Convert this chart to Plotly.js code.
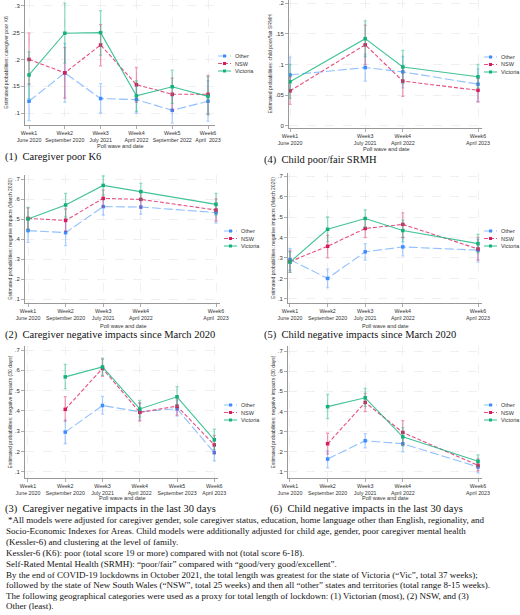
<!DOCTYPE html>
<html>
<head>
<meta charset="utf-8">
<script src="https://cdn.plot.ly/plotly-3.0.1.min.js"></script>
<style>html,body{margin:0;padding:0;background:#fff}</style>
</head>
<body>
<div id="chart" style="width:520px;height:615px"></div>
<script>
// ── Data (estimated probabilities and 95% CI) ──

const GROUPS = ['Other', 'NSW', 'Victoria'];

// (1) Caregiver poor K6
const k6Waves = [1, 2, 3, 4, 5, 6];
const k6TickVals = [1, 2, 3, 4, 5, 6];
const k6TickText = ['Week1<br>June 2020', 'Week2<br>September 2020', 'Week3<br>July 2021', 'Week4<br>April 2022', 'Week5<br>September 2022', 'Week6<br>April  2023'];
const k6Other = [0.122, 0.175, 0.127, 0.125, 0.105, 0.122];
const k6OtherLo = [0.086, 0.120, 0.100, 0.100, 0.081, 0.085];
const k6OtherHi = [0.155, 0.230, 0.155, 0.150, 0.131, 0.160];
const k6Nsw = [0.200, 0.175, 0.227, 0.153, 0.135, 0.135];
const k6NswLo = [0.153, 0.128, 0.188, 0.120, 0.105, 0.097];
const k6NswHi = [0.249, 0.222, 0.265, 0.185, 0.165, 0.170];
const k6Vic = [0.171, 0.249, 0.250, 0.132, 0.149, 0.131];
const k6VicLo = [0.127, 0.193, 0.208, 0.103, 0.118, 0.098];
const k6VicHi = [0.214, 0.305, 0.291, 0.160, 0.180, 0.168];

// (4) Child poor/fair SRMH
const srWaves = [1, 3, 4, 6];
const srTickVals = [1, 3, 4, 6];
const srTickText = ['Week1<br>June 2020', 'Week3<br>July 2021', 'Week4<br>April 2022', 'Week6<br>April 2023'];
const srOther = [0.083, 0.095, 0.088, 0.068];
const srOtherLo = [0.058, 0.073, 0.062, 0.040];
const srOtherHi = [0.112, 0.117, 0.113, 0.093];
const srNsw = [0.057, 0.132, 0.073, 0.058];
const srNswLo = [0.035, 0.100, 0.048, 0.039];
const srNswHi = [0.080, 0.164, 0.097, 0.077];
const srVic = [0.072, 0.142, 0.096, 0.080];
const srVicLo = [0.045, 0.113, 0.069, 0.062];
const srVicHi = [0.100, 0.171, 0.123, 0.100];

// (2) Caregiver negative impacts since March 2020
const cmWaves = [1, 2, 3, 4, 6];
const cmTickVals = [1, 2, 3, 4, 6];
const cmTickText = ['Week1<br>June 2020', 'Week2<br>September 2020', 'Week3<br>July 2021', 'Week4<br>April 2022', 'Week6<br>April  2023'];
const cmOther = [0.442, 0.432, 0.562, 0.560, 0.532];
const cmOtherLo = [0.383, 0.367, 0.520, 0.525, 0.480];
const cmOtherHi = [0.500, 0.500, 0.605, 0.600, 0.580];
const cmNsw = [0.503, 0.493, 0.603, 0.598, 0.545];
const cmNswLo = [0.450, 0.440, 0.560, 0.555, 0.490];
const cmNswHi = [0.555, 0.550, 0.645, 0.640, 0.600];
const cmVic = [0.500, 0.570, 0.668, 0.637, 0.573];
const cmVicLo = [0.445, 0.510, 0.620, 0.595, 0.520];
const cmVicHi = [0.558, 0.628, 0.715, 0.678, 0.628];

// (5) Child negative impacts since March 2020
const chWaves = [1, 2, 3, 4, 6];
const chTickVals = [1, 2, 3, 4, 6];
const chTickText = ['Week1<br>June 2020', 'Week2<br>September 2020', 'Week3<br>July 2021', 'Week4<br>April 2022', 'Week6<br>April 2023'];
const chOther = [0.292, 0.200, 0.330, 0.354, 0.338];
const chOtherLo = [0.240, 0.155, 0.290, 0.310, 0.280];
const chOtherHi = [0.345, 0.245, 0.370, 0.400, 0.390];
const chNsw = [0.282, 0.357, 0.444, 0.464, 0.344];
const chNswLo = [0.230, 0.300, 0.400, 0.400, 0.290];
const chNswHi = [0.335, 0.410, 0.490, 0.520, 0.400];
const chVic = [0.280, 0.440, 0.493, 0.434, 0.370];
const chVicLo = [0.230, 0.380, 0.450, 0.380, 0.325];
const chVicHi = [0.330, 0.500, 0.535, 0.485, 0.415];

// (3) Caregiver negative impacts in the last 30 days
const c30Waves = [2, 3, 4, 5, 6];
const c30TickVals = [1, 2, 3, 4, 5, 6];
const c30TickText = ['Week1<br>June 2020', 'Week2<br>September 2020', 'Week3<br>July 2021', 'Week4<br>April 2022', 'Week5<br>September 2023', 'Week6<br>April 2023'];
const c30Other = [0.296, 0.427, 0.396, 0.411, 0.195];
const c30OtherLo = [0.240, 0.385, 0.355, 0.375, 0.155];
const c30OtherHi = [0.355, 0.472, 0.438, 0.455, 0.235];
const c30Nsw = [0.408, 0.610, 0.393, 0.424, 0.233];
const c30NswLo = [0.350, 0.570, 0.350, 0.380, 0.190];
const c30NswHi = [0.470, 0.655, 0.440, 0.465, 0.280];
const c30Vic = [0.568, 0.617, 0.410, 0.470, 0.258];
const c30VicLo = [0.510, 0.575, 0.370, 0.425, 0.210];
const c30VicHi = [0.630, 0.660, 0.452, 0.520, 0.310];

// (6) Child negative impacts in the last 30 days
const k30Waves = [2, 3, 4, 6];
const k30TickVals = [1, 2, 3, 4, 6];
const k30TickText = ['Week1<br>June 2020', 'Week2<br>September 2020', 'Week3<br>July 2021', 'Week4<br>April 2022', 'Week6<br>April 2023'];
const k30Other = [0.164, 0.255, 0.240, 0.125];
const k30OtherLo = [0.120, 0.220, 0.200, 0.095];
const k30OtherHi = [0.205, 0.290, 0.280, 0.155];
const k30Nsw = [0.240, 0.445, 0.296, 0.133];
const k30NswLo = [0.190, 0.400, 0.235, 0.105];
const k30NswHi = [0.292, 0.490, 0.355, 0.165];
const k30Vic = [0.424, 0.468, 0.274, 0.153];
const k30VicLo = [0.365, 0.425, 0.230, 0.125];
const k30VicHi = [0.485, 0.515, 0.320, 0.185];

const yTicks01 = [0.1, 0.15, 0.2, 0.25, 0.3];
const yTicks02 = [0, 0.05, 0.1, 0.15, 0.2];
const yTicks07 = [0.1, 0.2, 0.3, 0.4, 0.5, 0.6, 0.7];

const FOOTNOTE = [
  '*All models were adjusted for caregiver gender, sole caregiver status, education, home language other than English, regionality, and',
  'Socio-Economic Indexes for Areas. Child models were additionally adjusted for child age, gender, poor caregiver mental health',
  '(Kessler-6) and clustering at the level of family.',
  'Kessler-6 (K6): poor (total score 19 or more) compared with not (total score 6-18).',
  'Self-Rated Mental Health (SRMH): \u201cpoor/fair\u201d compared with \u201cgood/very good/excellent\u201d.',
  'By the end of COVID-19 lockdowns in October 2021, the total length was greatest for the state of Victoria (\u201cVic\u201d, total 37 weeks);',
  'followed by the state of New South Wales (\u201cNSW\u201d, total 25 weeks) and then all \u201cother\u201d states and territories (total range 8-15 weeks).',
  'The following geographical categories were used as a proxy for total length of lockdown: (1) Victorian (most), (2) NSW, and (3)',
  'Other (least).',
];

// ── Styling ──────────────────────────────────────────────────────

const W = 520, H = 615;
const px = x => x / W;
const py = y => 1 - y / H;

const STYLE = {
  Other:    { line: 'rgba(70,150,255,0.6)',  marker: '#3d8bff', ci: 'rgba(70,150,255,0.45)', dash: '9px,3px' },
  NSW:      { line: 'rgba(222,35,95,0.8)',   marker: '#d81b5a', ci: 'rgba(222,35,95,0.45)',  dash: '4px,2px' },
  Victoria: { line: 'rgba(30,185,130,0.85)', marker: '#14b07a', ci: 'rgba(30,185,130,0.5)',  dash: 'solid' },
};

const SANS = 'Liberation Sans, Arial, sans-serif';
const SERIF = 'Liberation Serif, Times New Roman, serif';

// ── Panel definitions ────────────────────────────────────────────

const panels = [
  { id: 1, waves: k6Waves, tv: k6TickVals, tt: k6TickText, yt: yTicks01,
    est: [k6Other, k6Nsw, k6Vic], lo: [k6OtherLo, k6NswLo, k6VicLo], hi: [k6OtherHi, k6NswHi, k6VicHi],
    dx: [25, 215], dy: [125, 0], rx: [0.888, 6.195], ry: [0.0776, 0.311],
    ytitle: 'Estimated probabilities: caregiver poor K6', xt: 146,
    caption: '(1)  Caregiver poor K6', cap: [3, 157], leg: [218, 56] },
  { id: 2, waves: srWaves, tv: srTickVals, tt: srTickText, yt: yTicks02,
    est: [srOther, srNsw, srVic], lo: [srOtherLo, srNswLo, srVicLo], hi: [srOtherHi, srNswHi, srVicHi],
    dx: [289, 482], dy: [128, 0], rx: [0.973, 6.106], ry: [-0.0033, 0.2049],
    ytitle: 'Estimated probabilities: child poor/fair SRMH', xt: 149,
    caption: '(4)  Child poor/fair SRMH', cap: [262, 160], leg: [485, 57] },
  { id: 3, waves: cmWaves, tv: cmTickVals, tt: cmTickText, yt: yTicks07,
    est: [cmOther, cmNsw, cmVic], lo: [cmOtherLo, cmNswLo, cmVicLo], hi: [cmOtherHi, cmNswHi, cmVicHi],
    dx: [25, 220], dy: [303, 175], rx: [0.92, 6.106], ry: [0.08, 0.72],
    ytitle: 'Estimated probabilities: negative impacts (March 2020)', xt: 326,
    caption: '(2)  Caregiver negative impacts since March 2020', cap: [3, 335], leg: [224, 231] },
  { id: 4, waves: chWaves, tv: chTickVals, tt: chTickText, yt: yTicks07,
    est: [chOther, chNsw, chVic], lo: [chOtherLo, chNswLo, chVicLo], hi: [chOtherHi, chNswHi, chVicHi],
    dx: [288, 482], dy: [303, 173], rx: [0.947, 6.106], ry: [0.08, 0.715],
    ytitle: 'Estimated probabilities: negative impacts (March 2020)', xt: 326,
    caption: '(5)  Child negative impacts since March 2020', cap: [262, 335], leg: [485, 231] },
  { id: 5, waves: c30Waves, tv: c30TickVals, tt: c30TickText, yt: yTicks07,
    est: [c30Other, c30Nsw, c30Vic], lo: [c30OtherLo, c30NswLo, c30VicLo], hi: [c30OtherHi, c30NswHi, c30VicHi],
    dx: [25, 218], dy: [478, 346], rx: [0.92, 6.1], ry: [0.07, 0.72],
    ytitle: 'Estimated probabilities: negative impacts (30 days)', xt: 498,
    caption: '(3)  Caregiver negative impacts in the last 30 days', cap: [3, 509], leg: [224, 405] },
  { id: 6, waves: k30Waves, tv: k30TickVals, tt: k30TickText, yt: yTicks07,
    est: [k30Other, k30Nsw, k30Vic], lo: [k30OtherLo, k30NswLo, k30VicLo], hi: [k30OtherHi, k30NswHi, k30VicHi],
    dx: [288, 482], dy: [478, 346], rx: [0.947, 6.106], ry: [0.07, 0.725],
    ytitle: 'Estimated probabilities: negative impacts (30 days)', xt: 498,
    caption: '(6)  Child negative impacts in the last 30 days', cap: [268, 509], leg: [485, 405] },
];

const fmtTick = v => v === 0 ? '0' : String(v).replace(/^0/, '');

const traces = [];
const shapes = [];
const annotations = [];
const layout = {
  width: W, height: H,
  margin: { l: 0, r: 0, t: 0, b: 0 },
  paper_bgcolor: '#ffffff',
  plot_bgcolor: '#ffffff',
  font: { family: SANS, size: 6, color: '#333' },
  showlegend: false,
};

panels.forEach(p => {
  const sfx = p.id === 1 ? '' : String(p.id);
  GROUPS.forEach((g, gi) => {
    const st = STYLE[g];
    traces.push({
      x: p.waves, y: p.est[gi],
      xaxis: 'x' + sfx, yaxis: 'y' + sfx,
      type: 'scatter', mode: 'lines+markers',
      name: g,
      line: { color: st.line, width: 1.1, dash: st.dash },
      marker: { color: st.marker, size: 3.5, symbol: 'square' },
      error_y: {
        type: 'data', symmetric: false,
        array: p.hi[gi].map((v, i) => v - p.est[gi][i]),
        arrayminus: p.est[gi].map((v, i) => v - p.lo[gi][i]),
        color: st.ci, thickness: 1.3, width: 1.5,
      },
    });
  });

  layout['xaxis' + sfx] = {
    domain: [px(p.dx[0]), px(p.dx[1])],
    anchor: 'y' + sfx,
    range: p.rx,
    tickvals: p.tv, ticktext: p.tt, tickangle: 0,
    tickfont: { size: 5.3, color: '#333' },
    ticks: 'outside', ticklen: 3, tickcolor: '#999', tickwidth: 0.8,
    showline: true, linecolor: '#999', linewidth: 1,
    showgrid: true, gridcolor: '#e6e6e6', griddash: 'dash', gridwidth: 0.6,
    zeroline: false, automargin: false, fixedrange: true,
  };
  layout['yaxis' + sfx] = {
    domain: [py(p.dy[0]), py(p.dy[1])],
    anchor: 'x' + sfx,
    range: p.ry,
    tickvals: p.yt, ticktext: p.yt.map(fmtTick), tickangle: 0,
    tickfont: { size: 6, color: '#333' },
    ticks: 'outside', ticklen: 3, tickcolor: '#999', tickwidth: 0.8,
    showline: true, linecolor: '#999', linewidth: 1,
    showgrid: true, gridcolor: '#e6e6e6', griddash: 'dash', gridwidth: 0.6,
    zeroline: false, automargin: false, fixedrange: true,
    title: { text: p.ytitle, font: { size: 5, color: '#333' }, standoff: 2 },
  };

  // x-axis title, placed between tick labels and caption
  annotations.push({
    xref: 'paper', yref: 'paper', x: px((p.dx[0] + p.dx[1]) / 2), y: py(p.xt),
    xanchor: 'center', yanchor: 'middle', showarrow: false,
    text: 'Poll wave and date', font: { size: 5.5, color: '#333' },
  });

  // panel caption
  annotations.push({
    xref: 'paper', yref: 'paper', x: px(p.cap[0]), y: py(p.cap[1]),
    xanchor: 'left', yanchor: 'middle', showarrow: false,
    text: p.caption, font: { family: SERIF, size: 10.5, color: '#111' },
  });

  // legend keys
  GROUPS.forEach((g, gi) => {
    const st = STYLE[g];
    const lx = p.leg[0] - (p.leg[0] > 400 ? 1 : 0), ly = p.leg[1] + gi * 7.5;
    shapes.push({
      type: 'line', xref: 'paper', yref: 'paper',
      x0: px(lx), x1: px(lx + 13), y0: py(ly), y1: py(ly),
      line: { color: st.line, width: 1.1, dash: st.dash },
    });
    shapes.push({
      type: 'rect', xref: 'paper', yref: 'paper',
      x0: px(lx + 5), x1: px(lx + 8), y0: py(ly - 1.5), y1: py(ly + 1.5),
      fillcolor: st.marker, line: { width: 0 },
    });
    annotations.push({
      xref: 'paper', yref: 'paper', x: px(lx + 15), y: py(ly),
      xanchor: 'left', yanchor: 'middle', showarrow: false,
      text: g, font: { size: 5.5, color: '#333' },
    });
  });
});

// footnote
const footY = [520, 531, 542, 553, 563.5, 574.5, 585, 596, 606];
FOOTNOTE.forEach((t, i) => {
  annotations.push({
    xref: 'paper', yref: 'paper', x: px(i === 0 ? 6 : 4), y: py(footY[i]),
    xanchor: 'left', yanchor: 'middle', showarrow: false,
    text: t, font: { family: SERIF, size: 9, color: '#111' },
  });
});

layout.shapes = shapes;
layout.annotations = annotations;

Plotly.newPlot('chart', traces, layout, { displayModeBar: false, staticPlot: true });
</script>
</body>
</html>
